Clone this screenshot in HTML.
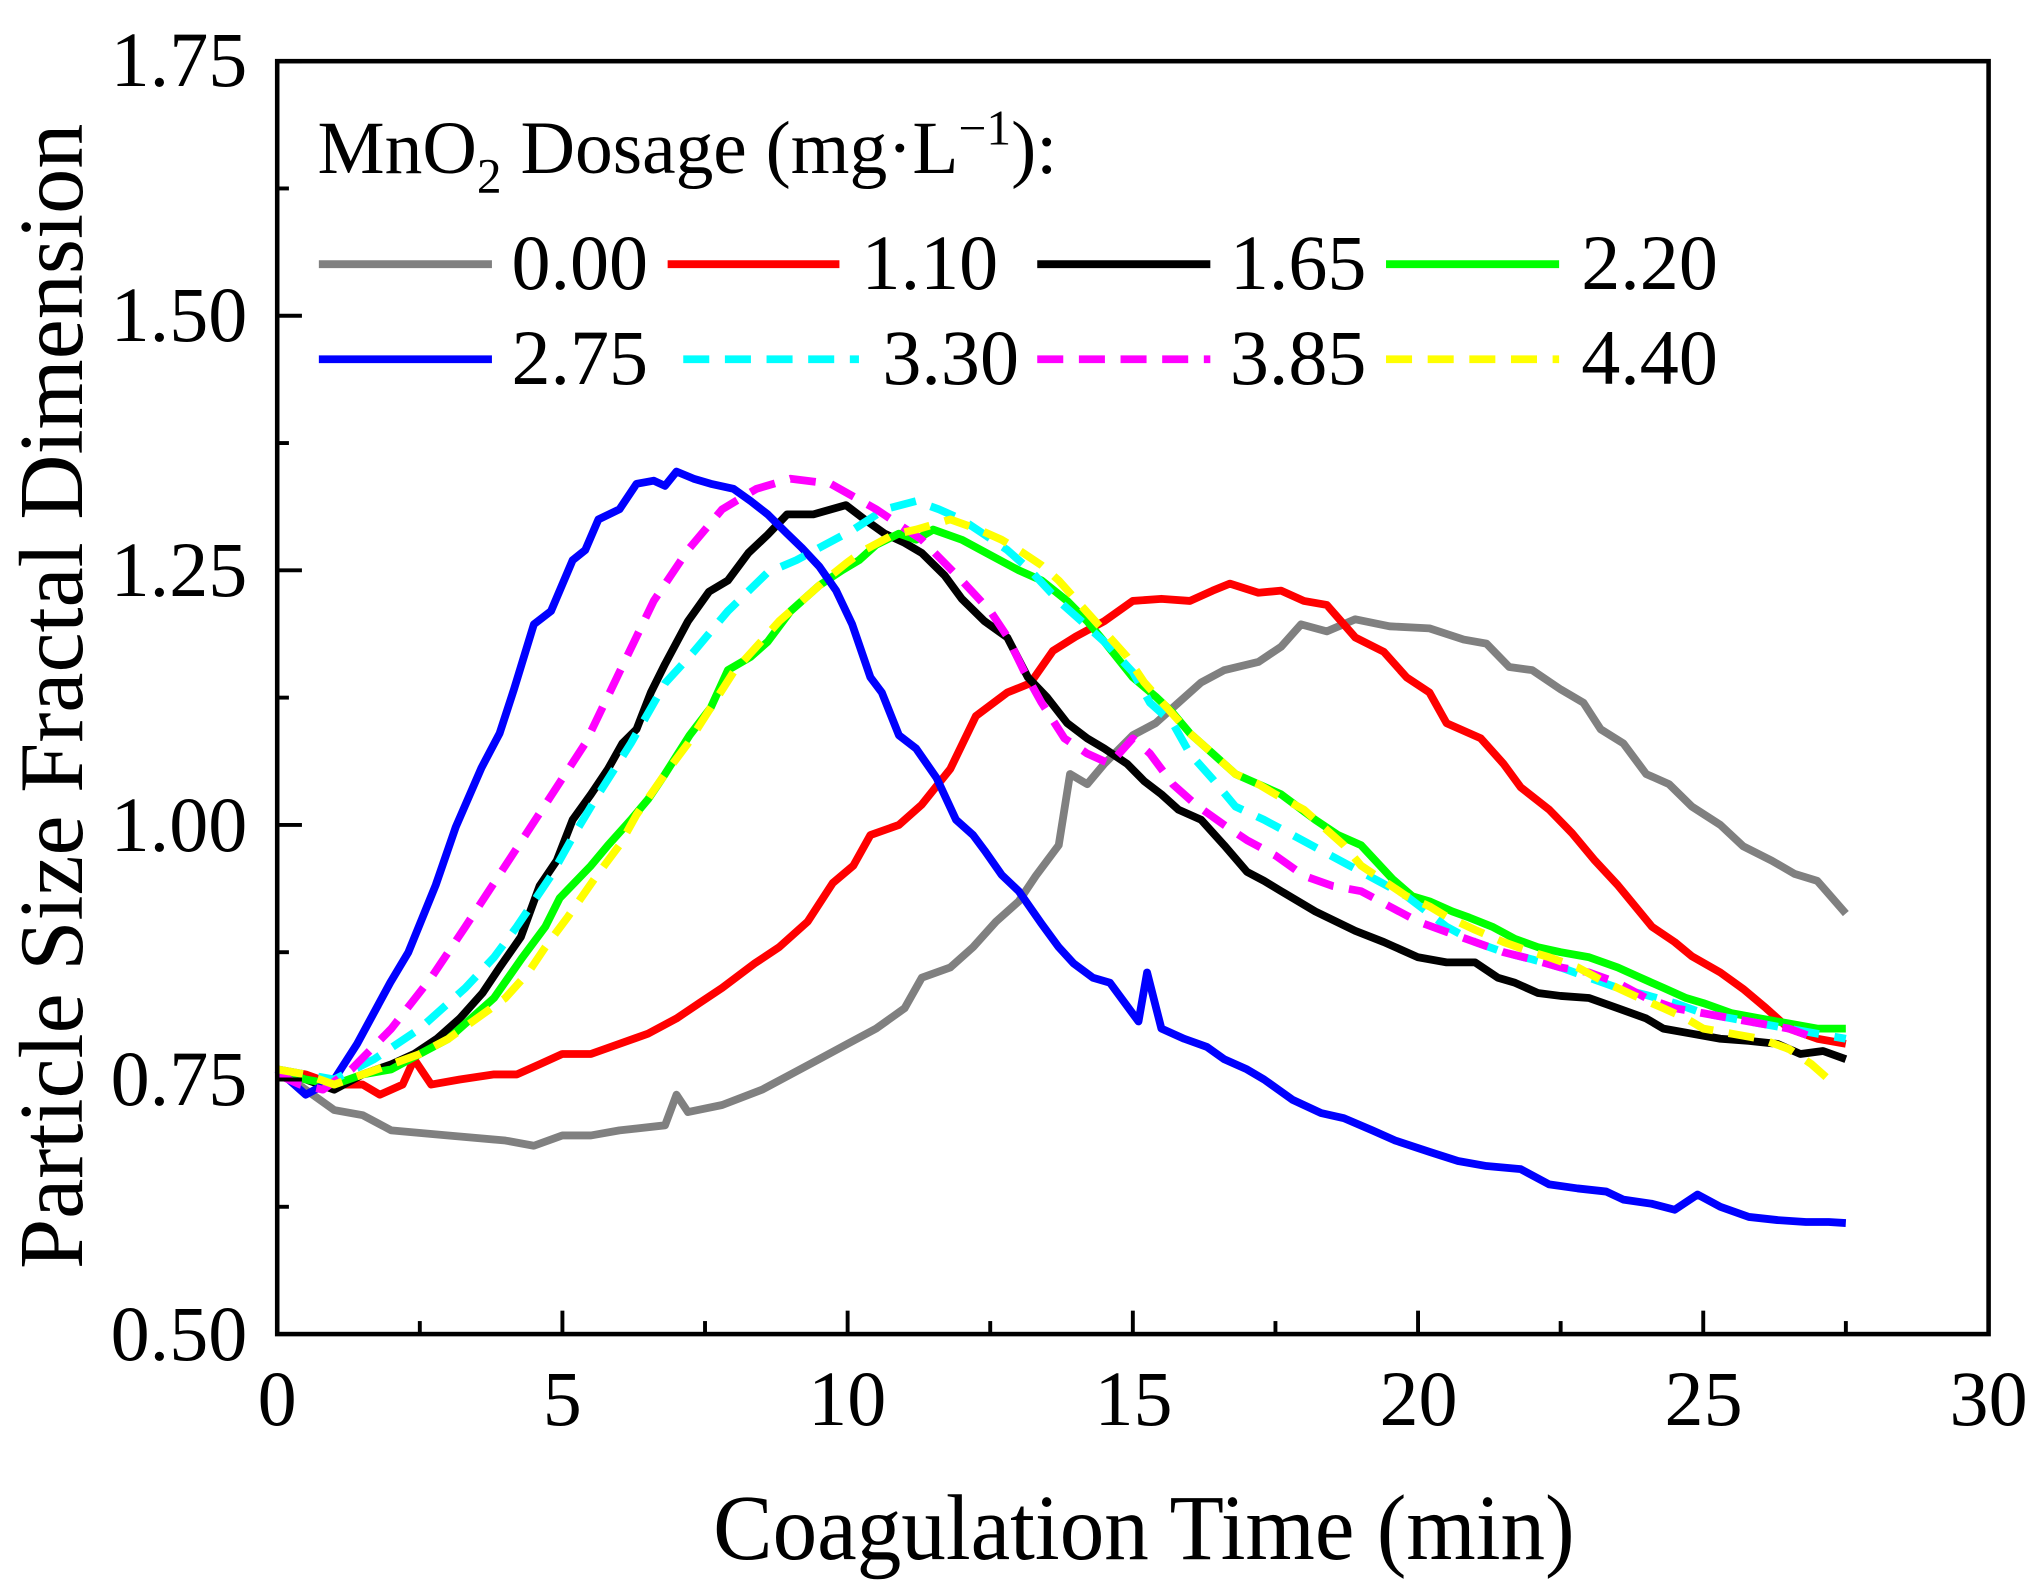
<!DOCTYPE html>
<html><head><meta charset="utf-8"><style>
html,body{margin:0;padding:0;background:#fff;}
svg{display:block;}
text{font-family:"Liberation Serif","Times New Roman",serif;fill:#000;}
</style></head><body>
<svg id="s" width="2040" height="1591" viewBox="0 0 1567.5 1222.4" preserveAspectRatio="none" xmlns="http://www.w3.org/2000/svg">
<rect width="1567.5" height="1222.4" fill="#fff"/>
<g id="curves" fill="none" stroke-width="6" stroke-linejoin="round"></g>
<rect x="213" y="47" width="1315" height="978" fill="none" stroke="#000" stroke-width="3.5"/>
<g id="ticks" stroke="#000" stroke-width="3"></g>
<g font-size="60">
<text x="190" y="1045" text-anchor="end">0.50</text>
<text x="190" y="849" text-anchor="end">0.75</text>
<text x="190" y="654" text-anchor="end">1.00</text>
<text x="190" y="458" text-anchor="end">1.25</text>
<text x="190" y="262" text-anchor="end">1.50</text>
<text x="190" y="66" text-anchor="end">1.75</text>
<text x="213" y="1095" text-anchor="middle">0</text>
<text x="432" y="1095" text-anchor="middle">5</text>
<text x="651" y="1095" text-anchor="middle">10</text>
<text x="871" y="1095" text-anchor="middle">15</text>
<text x="1090" y="1095" text-anchor="middle">20</text>
<text x="1309" y="1095" text-anchor="middle">25</text>
<text x="1528" y="1095" text-anchor="middle">30</text>
</g>
<text x="548" y="1198" font-size="72" textLength="662" lengthAdjust="spacingAndGlyphs">Coagulation Time (min)</text>
<text transform="translate(63,975) rotate(-90)" font-size="70" textLength="880" lengthAdjust="spacingAndGlyphs">Particle Size Fractal Dimension</text>
<text x="244" y="133" font-size="58">MnO<tspan font-size="38" dy="15">2</tspan><tspan dy="-15"> Dosage (mg·L</tspan><tspan font-size="38" dy="-22">−1</tspan><tspan dy="22">):</tspan></text>
<g stroke-width="6">
<line x1="245" y1="203" x2="378" y2="203" stroke="#808080"/>
<line x1="513" y1="203" x2="645" y2="203" stroke="#ff0000"/>
<line x1="797" y1="203" x2="930" y2="203" stroke="#000"/>
<line x1="1065" y1="203" x2="1198" y2="203" stroke="#00ff00"/>
<line x1="245" y1="276" x2="378" y2="276" stroke="#0000ff"/>
<line x1="525" y1="276" x2="660" y2="276" stroke="#00ffff" stroke-dasharray="20 12"/>
<line x1="797" y1="276" x2="930" y2="276" stroke="#ff00ff" stroke-dasharray="20 12"/>
<line x1="1065" y1="276" x2="1198" y2="276" stroke="#ffff00" stroke-dasharray="20 12"/>
</g>
<g font-size="60">
<text x="393" y="222">0.00</text>
<text x="662" y="222">1.10</text>
<text x="945" y="222">1.65</text>
<text x="1215" y="222">2.20</text>
<text x="393" y="295">2.75</text>
<text x="678" y="295">3.30</text>
<text x="945" y="295">3.85</text>
<text x="1215" y="295">4.40</text>
</g>
</svg>
<script>
function X(t){return 213+43.83*t;}
function Y(v){return 1025-782.4*(v-0.5);}
var tk=document.getElementById("ticks"),h="";
for(var i=0;i<=12;i++){var t=i*2.5,L=(i%2==0)?18:10;h+='<line x1="'+X(t)+'" y1="1025" x2="'+X(t)+'" y2="'+(1025-L)+'"/>';}
for(var i=0;i<=10;i++){var v=0.5+i*0.125,L=(i%2==0)?19:9;h+='<line x1="213" y1="'+Y(v)+'" x2="'+(213+L)+'" y2="'+Y(v)+'"/>';}
tk.innerHTML=h;
var S=[
["#808080",0,[0,.76,.5,.74,1,.72,1.5,.715,2,.7,3,.695,4,.69,4.5,.685,5,.695,5.5,.695,6,.7,6.8,.705,7,.735,7.2,.718,7.8,.725,8.5,.74,9,.755,9.5,.77,10,.785,10.5,.8,11,.82,11.3,.85,11.8,.86,12.2,.88,12.6,.905,13,.925,13.3,.95,13.7,.98,13.9,1.05,14.2,1.04,14.5,1.06,15,1.088,15.4,1.1,15.8,1.12,16.2,1.14,16.6,1.152,17.2,1.16,17.6,1.175,17.95,1.197,18.4,1.19,18.9,1.202,19.5,1.195,20.2,1.193,20.8,1.182,21.2,1.178,21.6,1.155,22,1.152,22.5,1.133,22.9,1.12,23.2,1.094,23.6,1.08,24,1.05,24.4,1.04,24.8,1.018,25.3,1.0,25.7,.979,26.2,.965,26.6,.952,27,.945,27.5,.913]],
["#ff0000",0,[0,.76,.5,.755,1,.745,1.5,.745,1.8,.735,2.2,.745,2.4,.77,2.7,.745,3.2,.75,3.8,.755,4.2,.755,4.6,.765,5,.775,5.5,.775,6,.785,6.5,.795,7,.81,7.4,.825,7.8,.84,8.37,.864,8.8,.88,9.3,.905,9.74,.943,10.1,.96,10.4,.99,10.9,1.0,11.3,1.02,11.8,1.055,12.25,1.107,12.8,1.13,13.2,1.139,13.6,1.171,14,1.185,14.5,1.2,15,1.22,15.5,1.222,16,1.22,16.4,1.23,16.7,1.237,17.2,1.228,17.6,1.23,18,1.22,18.4,1.216,18.9,1.184,19.4,1.17,19.8,1.145,20.2,1.13,20.5,1.1,21.1,1.085,21.5,1.06,21.8,1.037,22.3,1.015,22.7,.992,23.1,.965,23.5,.941,24.1,.9,24.5,.885,24.8,.871,25.3,.855,25.7,.839,26.1,.82,26.5,.8,27,.79,27.5,.785]],
["#000000",0,[0,.76,.5,.75,1,.74,1.5,.755,2,.765,2.4,.775,2.8,.79,3.2,.81,3.6,.835,3.9,.86,4.27,.89,4.6,.94,4.9,.965,5.18,1.005,5.5,1.03,5.8,1.055,6.05,1.08,6.3,1.094,6.55,1.13,6.8,1.158,7.2,1.2,7.57,1.229,7.9,1.24,8.26,1.267,8.6,1.285,8.94,1.305,9.4,1.305,9.97,1.314,10.3,1.3,10.65,1.286,11.0,1.277,11.3,1.267,11.7,1.245,12.0,1.222,12.4,1.2,12.8,1.184,13.16,1.145,13.5,1.125,13.85,1.1,14.2,1.085,14.5,1.075,14.9,1.06,15.2,1.043,15.5,1.03,15.8,1.015,16.2,1.005,16.6,.98,17.0,.954,17.3,.945,17.6,.935,18.2,.915,18.9,.896,19.4,.885,20.0,.87,20.5,.865,21,.865,21.4,.85,21.7,.845,22.1,.835,22.5,.832,23,.83,23.5,.82,24,.81,24.3,.8,24.8,.795,25.3,.79,25.8,.788,26.3,.785,26.7,.775,27.1,.778,27.5,.77]],
["#00ff00",0,[0,.76,.5,.75,1,.745,1.5,.755,2,.76,2.5,.775,3,.79,3.4,.81,3.8,.83,4.3,.87,4.7,.9,4.95,.928,5.5,.96,5.8,.98,6.2,1.005,6.5,1.025,6.8,1.05,7.23,1.088,7.6,1.115,7.9,1.152,8.3,1.165,8.6,1.18,9.0,1.21,9.5,1.235,9.9,1.25,10.2,1.26,10.5,1.275,10.9,1.286,11.2,1.28,11.5,1.29,12.0,1.28,12.5,1.265,13.0,1.25,13.4,1.24,13.85,1.22,14.2,1.2,14.5,1.18,15.0,1.145,15.4,1.126,15.7,1.11,16.0,1.09,16.4,1.07,16.8,1.05,17.2,1.04,17.6,1.03,18.2,1.005,18.6,.99,19.0,.98,19.55,.947,19.9,.93,20.2,.925,20.6,.915,20.9,.909,21.3,.9,21.7,.888,22.1,.88,22.5,.875,23,.87,23.5,.86,23.9,.85,24.3,.84,24.7,.83,25,.825,25.5,.815,26,.81,26.5,.805,27,.8,27.5,.8]],
["#0000ff",0,[0,.76,.5,.735,1,.75,1.4,.785,1.98,.845,2.3,.875,2.78,.941,3.13,.998,3.58,1.056,3.9,1.09,4.15,1.133,4.5,1.197,4.8,1.21,5.18,1.26,5.4,1.27,5.63,1.3,6.0,1.31,6.3,1.335,6.6,1.338,6.8,1.333,7.0,1.347,7.3,1.34,7.6,1.335,8.0,1.33,8.3,1.318,8.6,1.305,8.94,1.286,9.2,1.272,9.5,1.254,9.8,1.23,10.08,1.197,10.4,1.145,10.6,1.13,10.9,1.088,11.2,1.075,11.56,1.046,11.9,1.005,12.2,.99,12.4,.975,12.7,.951,13.0,.935,13.4,.903,13.7,.88,13.96,.864,14.3,.85,14.6,.845,15.1,.807,15.25,.855,15.5,.8,15.9,.79,16.3,.782,16.6,.77,17.0,.76,17.3,.75,17.8,.73,18.3,.717,18.7,.712,19.2,.7,19.6,.69,20.2,.679,20.7,.67,21.2,.665,21.8,.662,22.3,.647,22.8,.643,23.3,.64,23.6,.632,24.1,.628,24.5,.622,24.9,.637,25.3,.625,25.8,.615,26.3,.612,26.8,.61,27.2,.61,27.5,.609]],
["#00ffff",1,[0,.76,.5,.755,1,.75,1.7,.77,2.5,.8,3.3,.84,3.8,.87,4.2,.9,4.8,.95,5.2,.99,5.63,1.03,6.2,1.08,6.8,1.139,7.3,1.17,7.9,1.21,8.6,1.248,9.1,1.26,9.6,1.275,10.1,1.29,10.65,1.31,11.2,1.318,11.6,1.31,12,1.3,12.4,1.285,12.8,1.27,13.2,1.25,13.7,1.22,14.1,1.2,14.5,1.18,15.0,1.15,15.3,1.12,15.7,1.1,16.0,1.07,16.4,1.045,16.8,1.018,17.3,1.005,17.8,.99,18.3,.975,18.8,.96,19.3,.945,19.8,.93,20.5,.9,21.0,.885,21.5,.875,22.0,.868,22.5,.86,23.0,.85,23.5,.84,24.0,.833,24.5,.825,25.0,.815,25.5,.81,26.0,.805,26.5,.8,27,.795,27.5,.79]],
["#ff00ff",1,[0,.755,.4,.745,.8,.74,1.3,.76,2,.8,2.7,.85,3.3,.9,4.0,.96,4.7,1.02,5.4,1.08,6.0,1.15,6.6,1.22,7.2,1.27,7.8,1.31,8.4,1.33,9.0,1.34,9.7,1.335,10.5,1.31,11.3,1.28,12.0,1.24,12.5,1.21,12.8,1.185,13.1,1.15,13.4,1.12,13.8,1.085,14.2,1.07,14.6,1.06,15.0,1.085,15.3,1.07,15.7,1.04,16.1,1.02,16.6,1.0,17.0,.985,17.5,.97,18.0,.95,18.5,.94,19.0,.935,19.5,.92,20.0,.905,20.5,.895,21.0,.885,21.5,.875,22.0,.868,22.5,.86,23.0,.855,23.5,.845,24.0,.83,24.5,.82,25.0,.815,25.5,.81,26.0,.805,26.5,.8,27.0,.79]],
["#ffff00",1,[0,.76,.5,.755,1,.745,1.5,.755,2,.765,2.5,.775,3,.79,3.5,.81,4,.83,4.4,.855,4.7,.88,5.1,.91,5.6,.95,6.0,.98,6.3,1.01,6.8,1.05,7.2,1.08,7.6,1.115,8.0,1.15,8.4,1.175,8.8,1.2,9.2,1.22,9.6,1.24,10.0,1.258,10.3,1.27,10.8,1.285,11.2,1.29,11.8,1.3,12.3,1.29,12.7,1.28,13.0,1.27,13.4,1.255,13.7,1.24,14.1,1.215,14.5,1.19,14.9,1.165,15.2,1.14,15.6,1.115,16.0,1.09,16.4,1.07,16.8,1.05,17.2,1.04,17.5,1.03,18.0,1.015,18.3,1.0,18.7,.98,19.0,.96,19.4,.945,19.8,.93,20.2,.92,20.5,.91,21.0,.897,21.5,.885,22.0,.875,22.3,.87,22.8,.86,23.3,.845,23.8,.832,24.3,.82,24.7,.81,25.0,.8,25.5,.795,26.0,.79,26.5,.78,26.9,.765,27.3,.745]]
];
var g=document.getElementById("curves"),o="";
S.forEach(function(s){var p=s[2],d="";for(var i=0;i<p.length;i+=2){d+=(i?" L":"M")+X(p[i]).toFixed(1)+","+Y(p[i+1]).toFixed(1);}
o+='<path d="'+d+'" stroke="'+s[0]+'"'+(s[1]?' stroke-dasharray="20 12"':'')+'/>';});
g.innerHTML=o;
</script>
</body></html>
